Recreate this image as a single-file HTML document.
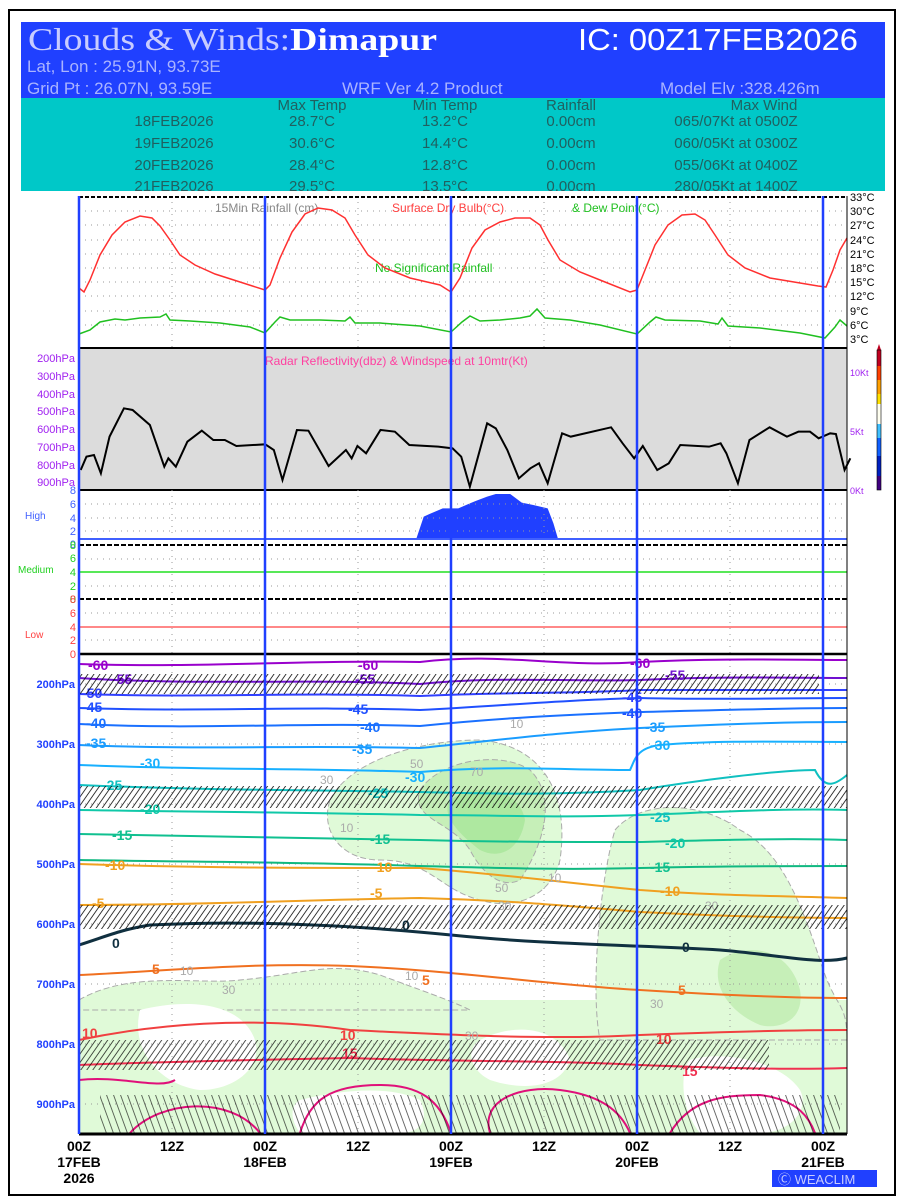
<!DOCTYPE html>
<html><head><meta charset="utf-8"><style>
body{margin:0;background:#fff}
svg{display:block}
text{font-family:"Liberation Sans",sans-serif}
</style></head><body>
<svg width="900" height="1200" viewBox="0 0 900 1200" xmlns="http://www.w3.org/2000/svg">
<defs>
<pattern id="barb" width="6" height="24" patternUnits="userSpaceOnUse" patternTransform="skewX(-35)">
<line x1="2" y1="0" x2="2" y2="24" stroke="#000" stroke-width="1.1"/>
</pattern>
<pattern id="barb2" width="7" height="40" patternUnits="userSpaceOnUse" patternTransform="skewX(20)">
<line x1="2" y1="0" x2="2" y2="40" stroke="#000" stroke-width="1"/>
</pattern>
</defs>
<rect x="9" y="10" width="886" height="1185" fill="#fff" stroke="#000" stroke-width="2"/>
<!-- header -->
<rect x="21" y="22" width="864" height="76" fill="#2040ff"/>
<text x="28" y="50" style="font-family:'Liberation Serif',serif;font-size:32px" fill="#c8ccff" textLength="409" lengthAdjust="spacingAndGlyphs">Clouds &amp; Winds:<tspan fill="#fff" font-weight="bold">Dimapur</tspan></text>
<text x="578" y="50" font-size="31" fill="#fff" textLength="280" lengthAdjust="spacingAndGlyphs">IC: 00Z17FEB2026</text>
<text x="27" y="72" font-size="17" fill="#aab4ff">Lat, Lon : 25.91N, 93.73E</text>
<text x="27" y="94" font-size="17" fill="#aab4ff">Grid Pt  : 26.07N, 93.59E</text>
<text x="342" y="94" font-size="17" fill="#aab4ff">WRF Ver 4.2 Product</text>
<text x="660" y="94" font-size="17" fill="#aab4ff">Model Elv :328.426m</text>
<rect x="21" y="98" width="864" height="93" fill="#00c8c8"/>
<g font-size="15" fill="#206060" text-anchor="middle">
<text x="312" y="110">Max Temp</text><text x="445" y="110">Min Temp</text><text x="571" y="110">Rainfall</text><text x="764" y="110">Max Wind</text>
<text x="174" y="126">18FEB2026</text><text x="312" y="126">28.7°C</text><text x="445" y="126">13.2°C</text><text x="571" y="126">0.00cm</text><text x="736" y="126">065/07Kt at 0500Z</text>
<text x="174" y="148">19FEB2026</text><text x="312" y="148">30.6°C</text><text x="445" y="148">14.4°C</text><text x="571" y="148">0.00cm</text><text x="736" y="148">060/05Kt at 0300Z</text>
<text x="174" y="170">20FEB2026</text><text x="312" y="170">28.4°C</text><text x="445" y="170">12.8°C</text><text x="571" y="170">0.00cm</text><text x="736" y="170">055/06Kt at 0400Z</text>
<text x="174" y="191">21FEB2026</text><text x="312" y="191">29.5°C</text><text x="445" y="191">13.5°C</text><text x="571" y="191">0.00cm</text><text x="736" y="191">280/05Kt at 1400Z</text>
</g>
<!-- top panel -->
<g stroke="#999" stroke-dasharray="1,5" stroke-width="1">
<line x1="79" x2="847" y1="211" y2="211"/><line x1="79" x2="847" y1="225" y2="225"/><line x1="79" x2="847" y1="240" y2="240"/><line x1="79" x2="847" y1="254" y2="254"/><line x1="79" x2="847" y1="268" y2="268"/><line x1="79" x2="847" y1="282" y2="282"/><line x1="79" x2="847" y1="296" y2="296"/><line x1="79" x2="847" y1="311" y2="311"/><line x1="79" x2="847" y1="325" y2="325"/>
<line x1="172" x2="172" y1="196" y2="348"/><line x1="358" x2="358" y1="196" y2="348"/><line x1="544" x2="544" y1="196" y2="348"/><line x1="730" x2="730" y1="196" y2="348"/>
</g>
<line x1="79" x2="847" y1="197" y2="197" stroke="#000" stroke-width="2" stroke-dasharray="4,2"/>
<g style="font-family:'Liberation Serif',serif;font-size:11px" fill="#000">
<text x="850" y="201">33°C</text><text x="850" y="215">30°C</text><text x="850" y="229">27°C</text><text x="850" y="244">24°C</text><text x="850" y="258">21°C</text><text x="850" y="272">18°C</text><text x="850" y="286">15°C</text><text x="850" y="300">12°C</text><text x="850" y="315">9°C</text><text x="850" y="329">6°C</text><text x="850" y="343">3°C</text>
</g>
<text x="215" y="212" font-size="12" fill="#888">15Min Rainfall (cm)</text>
<text x="392" y="212" font-size="12" fill="#ff4040">Surface Dry Bulb(°C)</text>
<text x="572" y="212" font-size="12" fill="#20c020">&amp; Dew Point(°C)</text>
<text x="375" y="272" font-size="12" fill="#20c020">No Significant Rainfall</text>
<polyline fill="none" stroke="#ff3030" stroke-width="1.5" points="79,288 84,292 90,280 100,255 112,235 125,222 140,216 152,218 160,226 170,240 180,255 195,265 215,274 240,282 265,290 270,285 280,258 292,232 305,214 318,208 332,210 345,218 355,235 368,255 385,268 410,278 440,285 451,292 460,278 472,248 485,230 500,222 515,218 530,218 540,225 548,240 560,260 580,272 605,282 630,292 637,290 645,270 655,245 668,225 682,215 695,214 705,220 715,235 728,255 745,268 770,278 800,283 818,286 826,287 833,270 840,250 847,238"/>
<polyline fill="none" stroke="#20c020" stroke-width="1.5" points="79,334 90,330 100,322 115,319 125,320 140,318 160,317 166,314 170,320 190,321 220,323 250,327 265,333 275,322 280,317 290,320 320,320 345,321 350,317 355,323 380,323 420,326 451,332 462,322 470,316 480,321 500,320 520,318 530,316 537,309 545,318 570,320 600,325 637,334 650,322 656,317 665,320 700,321 718,324 722,318 728,326 760,328 800,333 825,338 835,327 840,320 847,326"/>
<!-- radar panel -->
<rect x="79" y="348" width="768" height="142" fill="#dcdcdc"/>
<line x1="79" x2="847" y1="348" y2="348" stroke="#000" stroke-width="2"/>
<line x1="79" x2="847" y1="490" y2="490" stroke="#000" stroke-width="2"/>
<text x="265" y="365" font-size="12" fill="#ff40a0">Radar Reflectivity(dbz) &amp; Windspeed at 10mtr(Kt)</text>
<g font-size="11" fill="#a020f0" text-anchor="end">
<text x="75" y="362">200hPa</text><text x="75" y="380">300hPa</text><text x="75" y="398">400hPa</text><text x="75" y="415">500hPa</text><text x="75" y="433">600hPa</text><text x="75" y="451">700hPa</text><text x="75" y="469">800hPa</text><text x="75" y="486">900hPa</text>
</g>
<g font-size="9" fill="#a020f0"><text x="850" y="376">10Kt</text><text x="850" y="435">5Kt</text><text x="850" y="494">0Kt</text></g>
<g transform="translate(0,340) scale(0.5765,0.3333)">
<polyline fill="none" stroke="#000" stroke-width="2" vector-effect="non-scaling-stroke" points="140,390 150,350 163,345 175,400 190,290 215,205 230,210 260,255 285,380 292,355 305,380 325,305 350,272 370,300 390,300 410,318 460,313 475,330 490,420 515,270 535,272 570,378 600,330 610,355 620,318 635,340 660,270 685,275 710,315 760,320 785,325 800,350 815,440 845,250 860,265 880,330 900,415 920,385 935,370 950,430 975,280 990,290 1060,262 1080,310 1100,355 1115,318 1140,390 1160,370 1180,315 1230,320 1250,310 1260,340 1280,430 1300,300 1335,262 1365,290 1385,275 1405,275 1420,295 1440,280 1450,282 1465,390 1475,355"/>
<polygon fill="#2040ff" points="722,597 735,530 745,522 768,505 795,505 815,490 825,483 845,470 860,462 885,462 905,488 925,495 950,505 960,550 968,597"/>
</g>
<!-- colorbar -->
<g>
<polygon points="877,350 881,350 879,344" fill="#c00020"/>
<rect x="877" y="350" width="4" height="16" fill="#c00020"/><rect x="877" y="366" width="4" height="14" fill="#ff4000"/><rect x="877" y="380" width="4" height="14" fill="#ffa000"/><rect x="877" y="394" width="4" height="10" fill="#ffe000"/><rect x="877" y="404" width="4" height="20" fill="#fffff0"/><rect x="877" y="424" width="4" height="14" fill="#40c0ff"/><rect x="877" y="438" width="4" height="18" fill="#1060ff"/><rect x="877" y="456" width="4" height="20" fill="#0020c0"/><rect x="877" y="476" width="4" height="14" fill="#400080"/>
<rect x="877" y="350" width="4" height="140" fill="none" stroke="#000" stroke-width="0.6"/>
</g>
<!-- cloud panels -->
<g stroke="#999" stroke-dasharray="1,5">
<line x1="79" x2="847" y1="504" y2="504"/><line x1="79" x2="847" y1="518" y2="518"/><line x1="79" x2="847" y1="531" y2="531"/>
<line x1="79" x2="847" y1="559" y2="559"/><line x1="79" x2="847" y1="586" y2="586"/>
<line x1="79" x2="847" y1="613" y2="613"/><line x1="79" x2="847" y1="640" y2="640"/>
<line x1="172" x2="172" y1="490" y2="654"/><line x1="358" x2="358" y1="490" y2="654"/><line x1="544" x2="544" y1="490" y2="654"/><line x1="730" x2="730" y1="490" y2="654"/>
</g>
<line x1="79" x2="847" y1="539" y2="539" stroke="#4060ff" stroke-width="2"/>
<line x1="79" x2="847" y1="545" y2="545" stroke="#000" stroke-width="2" stroke-dasharray="5,2"/>
<line x1="79" x2="847" y1="572" y2="572" stroke="#20e020" stroke-width="1.5"/>
<line x1="79" x2="847" y1="599" y2="599" stroke="#000" stroke-width="2" stroke-dasharray="5,2"/>
<line x1="79" x2="847" y1="627" y2="627" stroke="#ff4040" stroke-width="1.2"/>
<g font-size="11" text-anchor="end">
<g fill="#4060ff"><text x="76" y="494">8</text><text x="76" y="508">6</text><text x="76" y="522">4</text><text x="76" y="535">2</text><text x="76" y="548">0</text></g>
<g fill="#20d020"><text x="76" y="549">8</text><text x="76" y="562">6</text><text x="76" y="576">4</text><text x="76" y="590">2</text><text x="76" y="603">0</text></g>
<g fill="#ff4040"><text x="76" y="603">8</text><text x="76" y="617">6</text><text x="76" y="631">4</text><text x="76" y="644">2</text><text x="76" y="658">0</text></g>
</g>
<text x="25" y="519" font-size="10" fill="#4060ff">High</text>
<text x="18" y="573" font-size="10" fill="#20d020">Medium</text>
<text x="25" y="638" font-size="10" fill="#ff4040">Low</text>
<!-- main panel -->
<g>
<rect x="79" y="1000" width="768" height="133" fill="#e0fad8"/>
<path d="M330,800 C350,760 420,740 480,740 C540,745 570,790 560,860 C550,900 510,910 480,900 C440,890 430,860 380,860 C340,860 320,830 330,800Z" fill="#e0fad8" stroke="#aaa" stroke-dasharray="6,3"/>
<path d="M420,790 C440,760 500,750 530,770 C560,800 540,850 520,880 C500,890 480,870 470,850 C450,820 410,820 420,790Z" fill="#c6efb8" stroke="#aaa" stroke-dasharray="6,3"/>
<path d="M450,800 C480,780 520,790 525,820 C520,850 500,860 480,850 C460,835 440,815 450,800Z" fill="#aee8a0"/>
<path d="M615,830 C640,800 700,800 740,830 C780,850 800,900 820,960 C835,1010 847,1000 847,1040 L600,1040 C590,990 600,880 615,830Z" fill="#e0fad8" stroke="#aaa" stroke-dasharray="6,3"/>
<path d="M720,960 C750,940 790,950 800,990 C805,1020 780,1030 760,1025 C735,1015 710,990 720,960Z" fill="#c6efb8"/>
<path d="M79,1000 C130,970 200,985 240,980 C300,975 330,960 380,975 C420,990 450,1000 470,1010 L79,1010Z" fill="#e0fad8" stroke="#aaa" stroke-dasharray="6,3"/>
<path d="M140,1010 C180,1000 230,1000 250,1030 C270,1060 240,1090 200,1090 C160,1085 130,1050 140,1010Z" fill="#fff"/>
<path d="M300,1100 C340,1090 390,1085 420,1100 C430,1120 420,1133 400,1133 L300,1133 C290,1120 290,1105 300,1100Z" fill="#fff"/>
<path d="M480,1040 C520,1020 560,1030 570,1060 C560,1090 520,1090 490,1080 C470,1070 465,1050 480,1040Z" fill="#fff"/>
<path d="M690,1060 C720,1050 780,1060 800,1090 C810,1110 790,1133 760,1133 L700,1133 C680,1110 680,1070 690,1060Z" fill="#fff"/>
</g>
<g stroke="#999" stroke-dasharray="1,5">
<line x1="79" x2="847" y1="684" y2="684"/><line x1="79" x2="847" y1="744" y2="744"/><line x1="79" x2="847" y1="804" y2="804"/><line x1="79" x2="847" y1="864" y2="864"/><line x1="79" x2="847" y1="924" y2="924"/><line x1="79" x2="847" y1="984" y2="984"/><line x1="79" x2="847" y1="1044" y2="1044"/><line x1="79" x2="847" y1="1104" y2="1104"/>
<line x1="172" x2="172" y1="654" y2="1133"/><line x1="358" x2="358" y1="654" y2="1133"/><line x1="544" x2="544" y1="654" y2="1133"/><line x1="730" x2="730" y1="654" y2="1133"/>
</g>
<!-- isotherms -->
<g fill="none" stroke-width="2">
<path d="M79,664 C200,668 300,660 420,662 C500,652 560,668 640,662 C720,658 790,660 847,660" stroke="#9900cc"/>
<path d="M79,678 C200,686 300,678 420,684 C500,676 560,682 640,680 C720,676 790,678 847,678" stroke="#7010d0"/>
<path d="M79,694 C200,698 300,692 420,696 C500,692 560,694 640,690 C720,690 790,690 847,690" stroke="#3040ff"/>
<path d="M79,708 C200,712 300,706 420,710 C500,706 560,700 640,698 C720,700 790,698 847,698" stroke="#2050ff"/>
<path d="M79,724 C200,730 300,722 420,726 C500,718 560,715 640,712 C720,710 790,708 847,708" stroke="#1a70ff"/>
<path d="M79,745 C200,750 300,745 420,748 C500,740 560,732 640,728 C720,724 790,722 847,722" stroke="#1a9cff"/>
<path d="M79,765 C200,770 300,768 420,772 C500,765 560,770 630,770 C635,760 636,748 660,745 C720,740 790,742 847,742" stroke="#18b0ff"/>
<path d="M79,785 C200,790 300,790 420,792 C500,794 560,795 640,790 C700,780 780,770 815,770 C825,790 835,785 847,775" stroke="#10c0c0"/>
<path d="M79,810 C200,812 300,812 420,815 C500,815 560,818 640,815 C720,812 790,808 847,810" stroke="#10c8a8"/>
<path d="M79,834 C200,836 300,838 420,840 C500,842 560,842 640,842 C720,840 790,838 847,840" stroke="#10c090"/>
<path d="M79,860 C200,862 300,862 420,866 C500,868 560,870 640,868 C720,866 790,866 847,866" stroke="#10b880"/>
<path d="M79,862 C200,866 300,866 420,866 C500,872 560,880 640,888 C720,894 790,894 847,896" stroke="#f0a020" transform="translate(0,2)"/>
<path d="M79,905 C200,905 300,900 420,898 C500,900 560,905 640,912 C720,916 790,918 847,918" stroke="#f0a020"/>
<path d="M79,945 C110,935 120,930 150,925 C250,920 350,925 451,935 C550,945 640,945 720,950 C780,955 820,965 847,958" stroke="#103040" stroke-width="3"/>
<path d="M79,975 C150,972 250,962 350,966 C450,970 550,985 640,990 C720,995 790,998 847,998" stroke="#f07020"/>
<path d="M79,1040 C150,1025 250,1015 350,1030 C450,1035 550,1040 640,1035 C720,1032 790,1030 847,1030" stroke="#f04040"/>
<path d="M79,1065 C150,1062 250,1060 350,1058 C450,1062 550,1060 640,1065 C720,1068 790,1070 847,1068" stroke="#f03050"/>
<path d="M130,1133 C160,1100 230,1095 260,1133 M300,1133 C310,1100 330,1085 380,1085 C420,1085 440,1100 451,1133 M490,1133 C480,1100 520,1085 560,1090 C600,1095 620,1110 630,1133 M670,1133 C690,1100 720,1095 760,1095 C800,1100 810,1120 815,1133" stroke="#e0107a"/>
<path d="M79,1080 C120,1075 160,1090 175,1080" stroke="#e0107a"/>
</g>
<g font-size="14" font-weight="bold" fill="none">
<text x="88" y="670" fill="#9900cc">-60</text><text x="358" y="670" fill="#9900cc">-60</text><text x="630" y="668" fill="#9900cc">-60</text>
<text x="112" y="684" fill="#7010d0">-55</text><text x="355" y="684" fill="#7010d0">-55</text><text x="665" y="680" fill="#7010d0">-55</text>
<text x="82" y="698" fill="#3040ff">-50</text><text x="622" y="702" fill="#3040ff">-45</text>
<text x="82" y="712" fill="#2050ff">-45</text><text x="348" y="714" fill="#2050ff">-45</text><text x="622" y="718" fill="#2050ff">-40</text>
<text x="86" y="728" fill="#1a70ff">-40</text><text x="360" y="732" fill="#1a70ff">-40</text><text x="645" y="732" fill="#1a9cff">-35</text>
<text x="86" y="748" fill="#1a9cff">-35</text><text x="352" y="754" fill="#1a9cff">-35</text><text x="650" y="750" fill="#18b0ff">-30</text>
<text x="140" y="768" fill="#18b0ff">-30</text><text x="405" y="782" fill="#18b0ff">-30</text>
<text x="102" y="790" fill="#10c0c0">-25</text><text x="368" y="798" fill="#10c0c0">-25</text><text x="650" y="822" fill="#10c0c0">-25</text>
<text x="140" y="814" fill="#10c8a8">-20</text><text x="665" y="848" fill="#10c8a8">-20</text>
<text x="112" y="840" fill="#10c090">-15</text><text x="370" y="844" fill="#10c090">-15</text><text x="650" y="872" fill="#10c090">-15</text>
<text x="105" y="870" fill="#f0a020">-10</text><text x="372" y="872" fill="#f0a020">-10</text><text x="660" y="896" fill="#f0a020">-10</text>
<text x="92" y="908" fill="#f0a020">-5</text><text x="370" y="898" fill="#f0a020">-5</text>
<text x="112" y="948" fill="#103040">0</text><text x="402" y="930" fill="#103040">0</text><text x="682" y="952" fill="#103040">0</text>
<text x="152" y="974" fill="#f07020">5</text><text x="422" y="985" fill="#f07020">5</text><text x="678" y="995" fill="#f07020">5</text>
<text x="82" y="1038" fill="#f04040">10</text><text x="340" y="1040" fill="#f04040">10</text><text x="656" y="1044" fill="#f04040">10</text>
<text x="342" y="1058" fill="#f03050">15</text><text x="682" y="1076" fill="#f03050">15</text>
</g>
<g font-size="12" fill="#aaa">
<text x="510" y="728">10</text><text x="410" y="768">50</text><text x="470" y="776">70</text><text x="320" y="784">30</text><text x="340" y="832">10</text><text x="495" y="892">50</text><text x="498" y="910">30</text><text x="548" y="882">10</text><text x="705" y="910">30</text><text x="180" y="975">10</text><text x="222" y="994">30</text><text x="405" y="980">10</text><text x="650" y="1008">30</text><text x="465" y="1040">30</text>
</g>
<!-- wind barbs -->
<g>
<rect x="79" y="674" width="740" height="20" fill="url(#barb)" opacity="0.85"/>
<rect x="79" y="786" width="768" height="22" fill="url(#barb)" opacity="0.85"/>
<rect x="79" y="905" width="768" height="24" fill="url(#barb)" opacity="0.85"/>
<rect x="79" y="1040" width="690" height="30" fill="url(#barb)" opacity="0.75"/>
<rect x="100" y="1095" width="740" height="38" fill="url(#barb2)" opacity="0.6"/>
</g>
<g font-size="11" font-weight="bold" fill="#2040ff" text-anchor="end">
<text x="75" y="688">200hPa</text><text x="75" y="748">300hPa</text><text x="75" y="808">400hPa</text><text x="75" y="868">500hPa</text><text x="75" y="928">600hPa</text><text x="75" y="988">700hPa</text><text x="75" y="1048">800hPa</text><text x="75" y="1108">900hPa</text>
</g>
<line x1="79" x2="847" y1="654" y2="654" stroke="#000" stroke-width="2.5"/>
<line x1="79" x2="847" y1="1134" y2="1134" stroke="#000" stroke-width="3"/>
<line x1="847" x2="847" y1="196" y2="1134" stroke="#000" stroke-width="1"/>
<!-- day lines -->
<g stroke="#2040ff" stroke-width="2.5">
<line x1="79" x2="79" y1="196" y2="1134"/><line x1="265" x2="265" y1="196" y2="1134"/><line x1="451" x2="451" y1="196" y2="1134"/><line x1="637" x2="637" y1="196" y2="1134"/><line x1="823" x2="823" y1="196" y2="1134"/>
</g>
<g font-size="14" font-weight="bold" fill="#000" text-anchor="middle">
<text x="79" y="1151">00Z</text><text x="79" y="1167">17FEB</text><text x="79" y="1183">2026</text>
<text x="172" y="1151">12Z</text>
<text x="265" y="1151">00Z</text><text x="265" y="1167">18FEB</text>
<text x="358" y="1151">12Z</text>
<text x="451" y="1151">00Z</text><text x="451" y="1167">19FEB</text>
<text x="544" y="1151">12Z</text>
<text x="637" y="1151">00Z</text><text x="637" y="1167">20FEB</text>
<text x="730" y="1151">12Z</text>
<text x="823" y="1151">00Z</text><text x="823" y="1167">21FEB</text>
</g>
<rect x="772" y="1170" width="105" height="17" fill="#2040ff"/>
<text x="778" y="1184" font-size="13" fill="#c8ccff">Ⓒ WEACLIM</text>
</svg>
</body></html>
